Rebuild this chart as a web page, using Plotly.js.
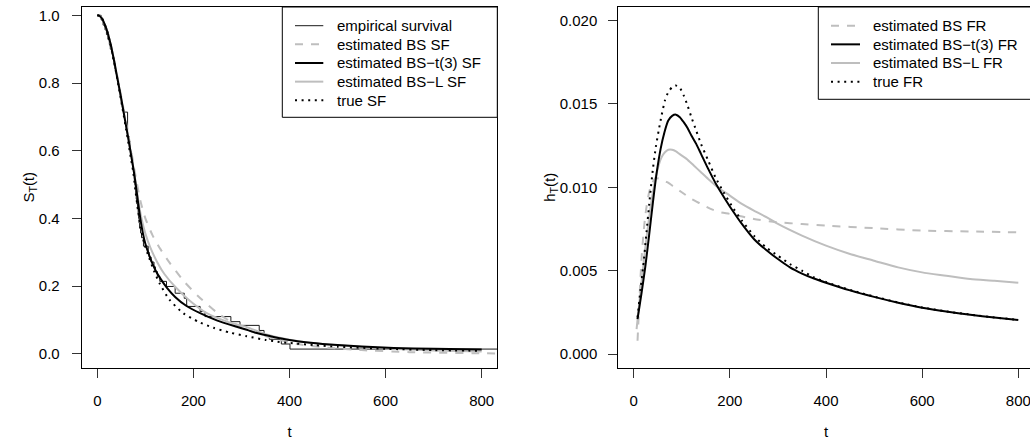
<!DOCTYPE html>
<html>
<head>
<meta charset="utf-8">
<script src="https://cdn.plot.ly/plotly-3.0.1.min.js"></script>
<style>
html, body { margin: 0; padding: 0; overflow: hidden; background: #fff; }
#chart { width: 1040px; height: 445px; }
</style>
</head>
<body>
<div id="chart"></div>
<script>
// ---------- Left panel: survival functions ----------
const empT = [0,8,12,16,19,22,25,27,30,32,34,36,38,40,42,44,46,48,50,52,54,63,66,68,69,70,72,73,74,76,77,78,79,80,81,82,84,85,86,87,88,90,92,96,106,108,112,118,121,125,130,144,162,181,186,214,224,278,297,337,347,358,383,401,845];
const empS = [1,0.986,0.971,0.957,0.943,0.929,0.914,0.9,0.886,0.871,0.857,0.843,0.829,0.814,0.8,0.786,0.771,0.757,0.743,0.729,0.714,0.643,0.629,0.614,0.6,0.586,0.571,0.557,0.543,0.529,0.514,0.5,0.486,0.471,0.457,0.443,0.429,0.414,0.4,0.386,0.371,0.357,0.343,0.318,0.3,0.286,0.271,0.257,0.243,0.229,0.214,0.199,0.179,0.164,0.14,0.125,0.11,0.095,0.084,0.069,0.056,0.043,0.029,0.014,0.014];

const sfBS_t = [0,5,10,15,20,25,30,35,40,45,50,55,60,65,70,75,80,90,100,115,131,150,180,210,249,280,311,340,374,420,480,550,650,800,850];
const sfBS_s = [1.0,0.998,0.992,0.978,0.958,0.933,0.903,0.868,0.832,0.795,0.758,0.72,0.682,0.643,0.604,0.563,0.522,0.45,0.4,0.35,0.31,0.27,0.215,0.17,0.122,0.093,0.072,0.057,0.043,0.028,0.018,0.011,0.005,0.0015,0.001];

const sfT3_t = [0,5,10,15,20,25,30,35,40,45,50,55,60,65,70,75,80,85,90,95,100,105,113,121,130,145,162,185,214,250,290,311,330,367,400,443,500,550,617,700,800];
const sfT3_s = [1.0,0.998,0.99,0.975,0.955,0.93,0.9,0.865,0.827,0.79,0.752,0.712,0.672,0.632,0.59,0.548,0.5,0.445,0.395,0.355,0.325,0.303,0.272,0.247,0.225,0.195,0.168,0.142,0.12,0.098,0.08,0.071,0.062,0.05,0.041,0.033,0.026,0.022,0.0175,0.015,0.0128];

const sfL_t = [0,5,10,15,20,25,30,35,40,45,50,55,60,65,70,75,80,85,92,100,110,125,140,162,190,228,270,311,350,400,450,500,600,700,800];
const sfL_s = [1.0,0.998,0.99,0.975,0.955,0.93,0.9,0.865,0.828,0.79,0.752,0.713,0.673,0.633,0.592,0.55,0.505,0.455,0.4,0.355,0.315,0.27,0.235,0.198,0.16,0.12,0.095,0.079,0.058,0.042,0.032,0.025,0.016,0.01,0.0065];

const sfTrue_t = [0,5,10,15,20,25,30,35,40,45,50,55,60,65,70,75,80,85,90,97,105,118,130,150,179,210,242,275,311,350,375,400,450,500,600,700,800];
const sfTrue_s = [1.0,0.998,0.99,0.975,0.955,0.928,0.897,0.862,0.824,0.785,0.745,0.704,0.663,0.62,0.577,0.535,0.475,0.42,0.375,0.33,0.295,0.245,0.207,0.16,0.12,0.095,0.077,0.063,0.052,0.041,0.036,0.032,0.026,0.021,0.015,0.011,0.009];

// ---------- Right panel: failure (hazard) rates ----------
const frBS_t = [8,11,14,17,20,23,26,30,34,38,45,55,70,85,100,120,140,160,180,200,250,300,350,400,500,600,700,800];
const frBS_h = [0.0008,0.0027,0.0045,0.0060,0.0071,0.0080,0.0087,0.0094,0.0099,0.0102,0.01055,0.0105,0.0103,0.0100,0.0097,0.0093,0.0090,0.0087,0.0085,0.0084,0.0081,0.0079,0.0078,0.0077,0.00755,0.0074,0.00735,0.0073];

const frT3_t = [8,16,24,32,40,48,56,64,72,80,88,96,104,112,120,130,140,155,173,190,208,225,250,275,300,325,350,375,400,450,500,550,600,650,700,750,800];
const frT3_h = [0.0021,0.0036,0.0052,0.0071,0.0091,0.0109,0.0123,0.0133,0.0140,0.01428,0.01435,0.0142,0.0139,0.01355,0.0131,0.0126,0.0120,0.0111,0.0101,0.0093,0.0085,0.0078,0.0069,0.00625,0.0057,0.0052,0.00483,0.00453,0.00428,0.00382,0.00343,0.00308,0.00278,0.00255,0.00236,0.00219,0.00204];

const frL_t = [6,10,15,20,25,30,35,40,45,50,55,60,65,72,80,88,95,110,125,140,155,175,200,225,250,277,300,350,400,450,500,550,600,650,700,750,800];
const frL_h = [0.0015,0.0026,0.0040,0.0053,0.0066,0.0077,0.0088,0.0097,0.0105,0.0111,0.0116,0.0119,0.0121,0.01225,0.01225,0.01215,0.0120,0.0117,0.0113,0.0109,0.0105,0.0100,0.0095,0.0090,0.0086,0.0082,0.0078,0.0071,0.0065,0.0060,0.0056,0.0052,0.0049,0.0047,0.0045,0.0044,0.00428];

const frTrue_t = [8,15,20,26,33,40,46,52,58,65,72,80,87,95,104,112,120,130,140,155,170,187,208,225,250,275,300,325,350,375,400,450,500,550,600,650,700,750,800];
const frTrue_h = [0.0022,0.0041,0.0053,0.0071,0.0092,0.0111,0.0124,0.0134,0.0143,0.0152,0.0157,0.0160,0.0161,0.0160,0.0155,0.0149,0.0142,0.0134,0.0126,0.0116,0.0106,0.0097,0.0087,0.0080,0.0071,0.0064,0.0059,0.0054,0.0050,0.0046,0.00432,0.00385,0.00345,0.0031,0.0028,0.00256,0.00237,0.0022,0.00205];

// ---------- Labels ----------
const legendLeft = ["empirical survival","estimated BS SF","estimated BS\u2212t(3) SF","estimated BS\u2212L SF","true SF"];
const legendRight = ["estimated BS FR","estimated BS\u2212t(3) FR","estimated BS\u2212L FR","true FR"];
const xTicks = [0,200,400,600,800];
const yTicksLeft = [0,0.2,0.4,0.6,0.8,1.0];
const yTicksRight = [0,0.005,0.010,0.015,0.020];

// ---------- Styles ----------
const W = 1040, H = 445;
const FONT = "Liberation Sans, Arial, Helvetica, sans-serif";
const GRAY = "#bebebe";
const st = {
  emp:  {color: "#1a1a1a", width: 1, dash: "solid"},
  bs:   {color: GRAY, width: 2, dash: "8px,8px"},
  t3:   {color: "#000000", width: 2, dash: "solid"},
  L:    {color: GRAY, width: 2, dash: "solid"},
  tru:  {color: "#000000", width: 2, dash: "2px,4.6px"}
};

function tr(x, y, s, xa, ya, shape) {
  return {x: x, y: y, xaxis: xa, yaxis: ya, type: "scatter", mode: "lines",
    line: {color: s.color, width: s.width, dash: s.dash, shape: shape || "spline", smoothing: 0.6},
    showlegend: false, hoverinfo: "skip", cliponaxis: true};
}

const data = [
  tr(empT, empS, st.emp, "x", "y", "hv"),
  tr(sfBS_t, sfBS_s, st.bs, "x", "y"),
  tr(sfL_t, sfL_s, st.L, "x", "y"),
  tr(sfT3_t, sfT3_s, st.t3, "x", "y"),
  tr(sfTrue_t, sfTrue_s, st.tru, "x", "y"),
  tr(frBS_t, frBS_h, st.bs, "x2", "y2"),
  tr(frL_t, frL_h, st.L, "x2", "y2"),
  tr(frT3_t, frT3_h, st.t3, "x2", "y2"),
  tr(frTrue_t, frTrue_h, st.tru, "x2", "y2")
];

const fx = px => px / W;
const fy = py => 1 - py / H;

const shapes = [];
const annotations = [];
function legendBox(x0, x1, y0, y1, names, styles, lineX0, lineX1, textX, firstY, step) {
  shapes.push({type: "rect", xref: "paper", yref: "paper", x0: fx(x0), x1: fx(x1), y0: fy(y1), y1: fy(y0),
    line: {color: "#000", width: 1}, fillcolor: "#fff", layer: "above"});
  names.forEach((n, i) => {
    const yy = firstY + i * step;
    const s = styles[i];
    shapes.push({type: "line", xref: "paper", yref: "paper", x0: fx(lineX0), x1: fx(lineX1), y0: fy(yy), y1: fy(yy),
      line: {color: s.color, width: s.width, dash: s.dash}, layer: "above"});
    annotations.push({xref: "paper", yref: "paper", x: fx(textX), y: fy(yy), xanchor: "left", yanchor: "middle",
      text: n, showarrow: false, font: {family: FONT, size: 15, color: "#000"}, borderpad: 0});
  });
}
legendBox(282.3, 497.3, 7, 117.3, legendLeft, [st.emp, st.bs, st.t3, st.L, st.tru], 295, 323.3, 335.5, 25.7, 18.65);
legendBox(818.3, 1034, 7, 99.3, legendRight, [st.bs, st.t3, st.L, st.tru], 831, 860, 871.5, 25.7, 18.65);

const axBase = {
  showgrid: false, zeroline: false, showline: true, mirror: true, linecolor: "#000", linewidth: 1,
  ticks: "outside", ticklen: 9, tickwidth: 1, tickcolor: "#333",
  tickfont: {family: FONT, size: 15, color: "#000"}
};
const ydom = [1 - 367.5 / H, 1 - 7 / H];

const layout = {
  width: W, height: H,
  margin: {l: 0, r: 0, t: 0, b: 0},
  paper_bgcolor: "#fff", plot_bgcolor: "#fff",
  font: {family: FONT, size: 15, color: "#000"},
  showlegend: false,
  xaxis: Object.assign({}, axBase, {domain: [fx(81.7), fx(497.3)], range: [-32.5, 832.5], tickvals: xTicks,
    ticklabelstandoff: 10, title: {text: "t", standoff: 18, font: {family: FONT, size: 15}}, anchor: "y"}),
  yaxis: Object.assign({}, axBase, {domain: ydom, range: [-0.0404, 1.0245], tickvals: yTicksLeft, tickformat: ".1f",
    ticklabelstandoff: 9, title: {text: "S<sub>T</sub>(t)", standoff: 0, font: {family: FONT, size: 15}}, anchor: "x"}),
  xaxis2: Object.assign({}, axBase, {domain: [fx(618.3), fx(1033.7)], range: [-32, 832], tickvals: xTicks,
    ticklabelstandoff: 10, title: {text: "t", standoff: 18, font: {family: FONT, size: 15}}, anchor: "y2"}),
  yaxis2: Object.assign({}, axBase, {domain: ydom, range: [-0.0008, 0.0208], tickvals: yTicksRight, tickformat: ".3f",
    ticklabelstandoff: 8, title: {text: "h<sub>T</sub>(t)", standoff: 0, font: {family: FONT, size: 15}}, anchor: "x2"}),
  shapes: shapes,
  annotations: annotations
};

Plotly.newPlot("chart", data, layout, {staticPlot: true, displayModeBar: false});
</script>
</body>
</html>
